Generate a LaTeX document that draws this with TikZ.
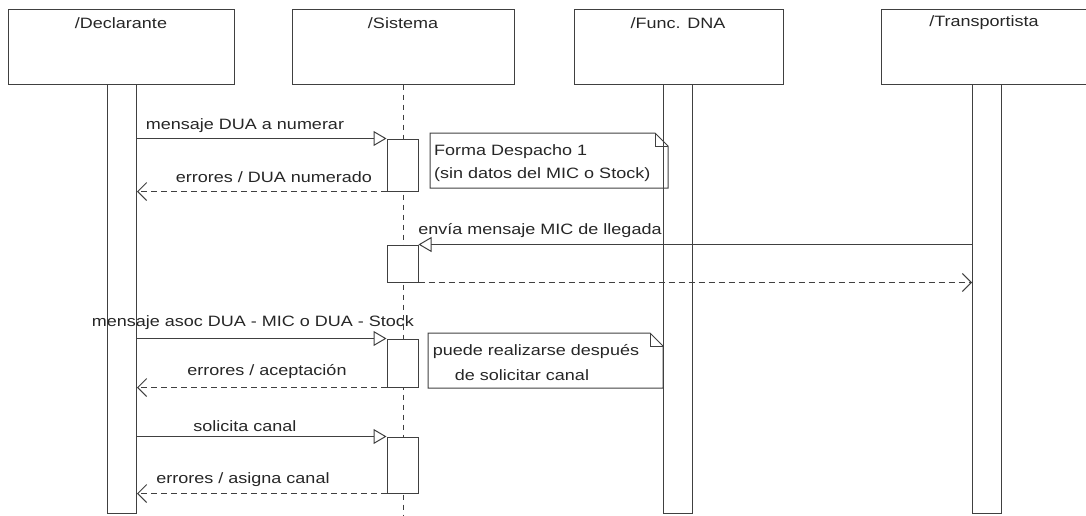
\documentclass[tikz,border=0pt]{standalone}
\usepackage{graphicx}
\usepackage{fontspec}
\setmainfont{Liberation Sans}
\usetikzlibrary{arrows.meta}
\newcommand{\hs}[1]{\scalebox{1.2}[1]{#1}}
\begin{document}
\begin{tikzpicture}[x=1pt,y=-1pt,
  ln/.style={draw=black!75, line width=1pt},
  hdr/.style={ln, rectangle, inner sep=0pt, minimum height=75pt},
  bar/.style={ln, rectangle, inner sep=0pt, minimum width=29pt, minimum height=429pt},
  act/.style={ln, fill=white, rectangle, inner sep=0pt, minimum width=31pt},
  lbl/.style={font=\fontsize{15}{17}\selectfont, inner sep=0pt, text=black!85},
  msg/.style={ln, -{Triangle[open, length=13pt, width=15pt]}},
  ret/.style={ln, dash pattern=on 6pt off 4pt, -{Straight Barb[length=9pt, width=18pt]}},
  life/.style={ln, dash pattern=on 5pt off 5pt},
  note/.style={ln, line join=miter}
]
\path[use as bounding box] (0,0) rectangle (1086,515);
\clip (0,0) rectangle (1086,515);

% header boxes
\node[hdr, minimum width=226pt] (D) at (121,46.5) {};
\node[hdr, minimum width=222pt] (S) at (403,46.5) {};
\node[hdr, minimum width=209pt] (F) at (678.5,46.5) {};
\node[hdr, minimum width=212pt] (T) at (987,46.5) {};
\node[lbl] (Dt) at (121,23) {\hs{/Declarante}};
\node[lbl] (St) at (403,23) {\hs{/Sistema}};
\node[lbl] (Ft) at (678,23) {\hs{/Func. DNA}};
\node[lbl] (Tt) at (984,23) {\hs{/Transportista}};

% lifelines
\node[bar] (Db) at (122,298.5) {};
\node[bar] (Fb) at (678,298.5) {};
\node[bar] (Tb) at (987,298.5) {};
\coordinate (Sl) at (403,515);
\draw[life] (S.south) -- (Sl);

% activations
\node[act, minimum height=52pt] (A1) at (402.5,165) {};
\node[act, minimum height=37pt] (A2) at (402.5,263.5) {};
\node[act, minimum height=48pt] (A3) at (402.5,363) {};
\node[act, minimum height=56pt] (A4) at (402.5,465) {};

% notes
\draw[note] (430,133) -- (655,133) -- (668,146) -- (668,188) -- (430,188) -- cycle;
\draw[note] (655,133) -- (655,146) -- (668,146);
\draw[note] (428,333) -- (650,333) -- (663,346) -- (663,388) -- (428,388) -- cycle;
\draw[note] (650,333) -- (650,346) -- (663,346);
\node[lbl, anchor=west] (N1a) at (434,152) {\hs{Forma Despacho 1}};
\node[lbl, anchor=west] (N1b) at (434,175) {\hs{(sin datos del MIC o Stock)}};
\node[lbl] (N2a) at (536,352) {\hs{puede realizarse después}};
\node[lbl] (N2b) at (522,375) {\hs{de solicitar canal}};

% messages
\draw[msg] (Db.east |- A1.north) -- (A1.north west);
\draw[ret] (A1.south west) -- (Db.east |- A1.south);
\draw[msg] (Tb.west |- A2.north) -- (A2.north east);
\draw[ret] (A2.south east) -- (Tb.west |- A2.south);
\draw[msg] (Db.east |- A3.north) -- (A3.north west);
\draw[ret] (A3.south west) -- (Db.east |- A3.south);
\draw[msg] (Db.east |- A4.north) -- (A4.north west);
\draw[ret] (A4.south west) -- (Db.east |- A4.south);

% labels
\node[lbl] (L1) at (245,126) {\hs{mensaje DUA a numerar}};
\node[lbl] (L2) at (274,177) {\hs{errores / DUA numerado}};
\node[lbl] (L3) at (540,231) {\hs{envía mensaje MIC de llegada}};
\node[lbl] (L4) at (253,323) {\hs{mensaje asoc DUA - MIC o DUA - Stock}};
\node[lbl] (L5) at (267,372) {\hs{errores / aceptación}};
\node[lbl] (L6) at (245,426) {\hs{solicita canal}};
\node[lbl] (L7) at (243,480) {\hs{errores / asigna canal}};
\end{tikzpicture}
\end{document}
